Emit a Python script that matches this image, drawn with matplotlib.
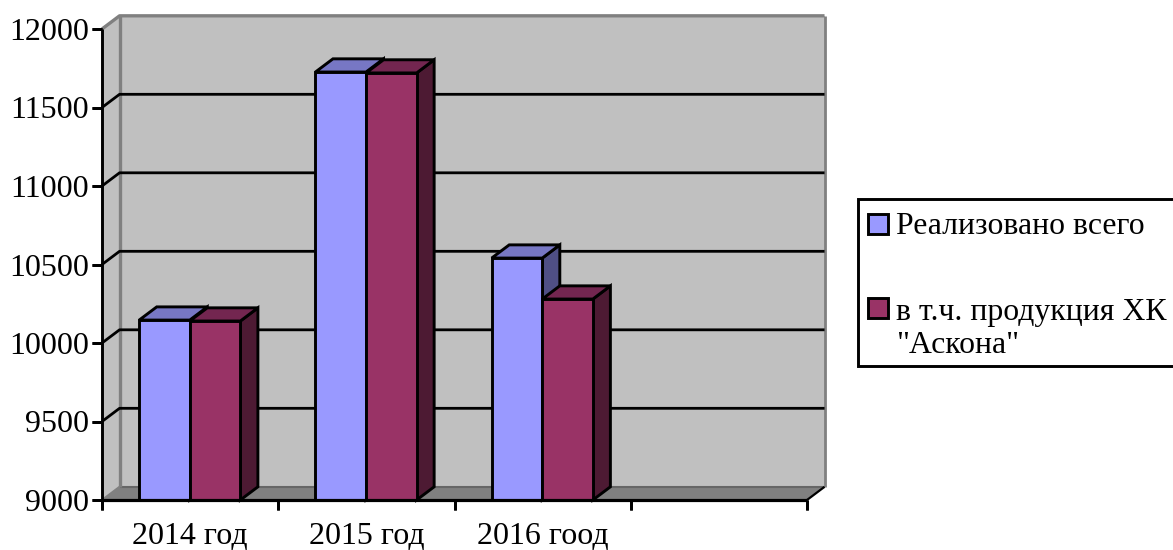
import matplotlib
matplotlib.use("Agg")
import matplotlib.pyplot as plt
from matplotlib.patches import Polygon, Rectangle

plt.rcParams['font.family'] = ['Liberation Serif', 'DejaVu Serif']

# Chart data
categories = ["2014 год", "2015 год", "2016 гоод"]
total_sold = [10146, 11726, 10541]
askona_products = [10140, 11720, 10280]
series_names = ["Реализовано всего", "в т.ч. продукция ХК\n\"Аскона\""]
y_ticks = [9000, 9500, 10000, 10500, 11000, 11500, 12000]

W, H = 1173, 550
SLOTS = 4                 # the category axis reserves one empty slot
Y_MIN, Y_MAX = 9000, 12000
BAR_W = 0.287             # bar width in category units
GAP = 0.211               # space before the first bar in a slot
DX = 0.0995               # oblique depth, category units
DY = 84                   # oblique depth, value units
LW = 2.1

BLUE = ("#9999ff", "#7777c4", "#4f4f85")
RED = ("#993366", "#732650", "#4d1a33")

fig = plt.figure(figsize=(W / 100, H / 100), dpi=100, facecolor="white")
ax = fig.add_axes([102 / W, 1 - 500 / H, 705 / W, 471 / H])
ax.set_xlim(0, SLOTS)
ax.set_ylim(Y_MIN, Y_MAX)
ax.axis("off")


def poly(points, face, edge="black", lw=LW, z=1):
    ax.add_patch(Polygon(points, closed=True, facecolor=face, edgecolor=edge,
                         linewidth=lw, joinstyle="miter", clip_on=False, zorder=z))


def line(xs, ys, color="black", lw=LW, z=2):
    ax.plot(xs, ys, color=color, lw=lw, clip_on=False, zorder=z,
            solid_capstyle="butt")


# Walls and floor of the box
poly([(DX, Y_MIN + DY), (SLOTS + DX, Y_MIN + DY), (SLOTS + DX, Y_MAX + DY), (DX, Y_MAX + DY)],
     "#c0c0c0", edge="none")
poly([(0, Y_MIN), (DX, Y_MIN + DY), (DX, Y_MAX + DY), (0, Y_MAX)], "#c0c0c0", edge="none")
poly([(0, Y_MIN), (SLOTS, Y_MIN), (SLOTS + DX, Y_MIN + DY), (DX, Y_MIN + DY)],
     "#808080", edge="none")
line([DX, SLOTS + DX], [Y_MIN + DY] * 2, color="#666666", lw=1.5)
line([DX, DX], [Y_MIN + DY, Y_MAX + DY], color="#808080", lw=2.4)
line([SLOTS + DX, SLOTS + DX], [Y_MIN + DY, Y_MAX + DY], color="#808080", lw=2.0)
line([0, DX, SLOTS + DX], [Y_MAX, Y_MAX + DY, Y_MAX + DY], color="#808080", lw=2.4)
line([0, DX], [Y_MIN, Y_MIN + DY], color="#808080", lw=1.5)

# Floor corner at the right runs out in black from the category axis
line([SLOTS, SLOTS + DX], [Y_MIN, Y_MIN + DY], lw=1.6, z=2)

# Gridlines across the side wall and the back wall
for v in y_ticks[1:-1]:
    line([0, DX, SLOTS + DX], [v, v + DY, v + DY], lw=2.0)


def bar_3d(x, value, shades):
    front, top, side = shades
    poly([(x + BAR_W, Y_MIN), (x + BAR_W + DX, Y_MIN + DY),
          (x + BAR_W + DX, value + DY), (x + BAR_W, value)], side, z=3)
    poly([(x, value), (x + BAR_W, value), (x + BAR_W + DX, value + DY), (x + DX, value + DY)],
         top, z=3)
    poly([(x, Y_MIN), (x + BAR_W, Y_MIN), (x + BAR_W, value), (x, value)], front, z=3)


# Each slot is painted blue first, then red in front of its side face
for i, (a, b) in enumerate(zip(total_sold, askona_products)):
    bar_3d(i + GAP, a, BLUE)
    bar_3d(i + GAP + BAR_W, b, RED)

# Front axes with ticks
line([0, 0], [Y_MIN, Y_MAX], lw=2.1, z=4)
line([0, SLOTS], [Y_MIN, Y_MIN], lw=2.3, z=4)
for v in y_ticks:
    ax.plot([0, 0], [v, v], marker=0, markersize=7.2, markeredgewidth=2.0, color="black",
            clip_on=False, zorder=4)
    ax.annotate(str(v), xy=(0, v), xytext=(-13, 0), textcoords="offset pixels",
                ha="right", va="center_baseline", fontsize=23, annotation_clip=False)
for i in range(SLOTS + 1):
    ax.plot([i, i], [Y_MIN, Y_MIN], marker=3, markersize=7.2, markeredgewidth=2.0,
            color="black", clip_on=False, zorder=4)
for i, label in enumerate(categories):
    ax.annotate(label, xy=(i + 0.5, Y_MIN), xytext=(0, -44), textcoords="offset pixels",
                ha="center", va="baseline", fontsize=23, annotation_clip=False)


# Legend panel in pixel-based figure coordinates
def fx(px):
    return px / W


def fy(py):
    return 1 - py / H


fig.add_artist(Rectangle((fx(858), fy(366)), (W + 20 - 858) / W, 167 / H,
                         transform=fig.transFigure, facecolor="white",
                         edgecolor="black", linewidth=LW))
for (top_px, shades, name, text_y) in ((214, BLUE, series_names[0], 226),
                                       (298, RED, series_names[1], 329)):
    fig.add_artist(Rectangle((fx(868), fy(top_px + 20)), 20 / W, 20 / H,
                             transform=fig.transFigure, facecolor=shades[0],
                             edgecolor="black", linewidth=LW))
    fig.text(fx(896), fy(text_y), name, ha="left", va="center", fontsize=22.9,
             linespacing=1.22)

fig.savefig("out.png", dpi=100, facecolor="white")
